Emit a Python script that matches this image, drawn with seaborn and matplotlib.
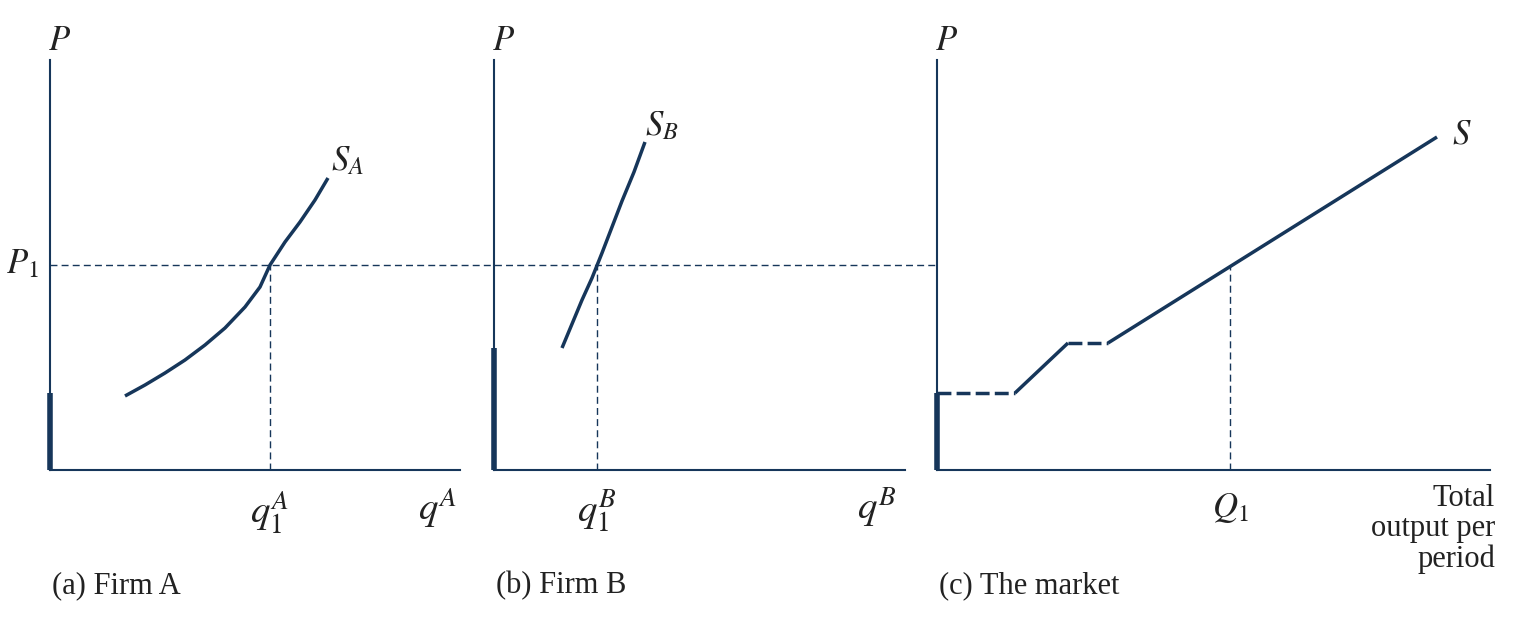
import matplotlib.pyplot as plt
import seaborn as sns

sns.set_theme(style="white")
plt.rcParams['font.family'] = ['Liberation Serif', 'DejaVu Serif']
plt.rcParams['mathtext.fontset'] = 'stix'

NAVY = '#16365a'
W, H = 1515, 626

# data in axis units (origin at each panel's corner)
p1 = 205
sa_x = [75, 95, 115, 135, 155, 175, 195, 210, 220, 235, 250, 265, 278]
sa_y = [74, 85, 97, 110, 125, 142, 163, 183, 205, 228, 248, 270, 292]
sb_x = [68, 78, 88, 98, 108, 118, 128, 140, 151]
sb_y = [122, 146, 170, 192, 217, 243, 269, 298, 328]
qa1, qb1, Q1 = 220, 103, 293
step1_x, step1_y = [0, 78], [77, 77]
rise1_x, rise1_y = [78, 131], [77, 127]
step2_x, step2_y = [131, 171], [127, 127]
mkt_x, mkt_y = [171, 500], [127, 333]
shut_a, shut_b, shut_c = 77, 122, 77

panels = [(50, 410), (494, 411), (937, 553)]
fig = plt.figure(figsize=(W / 100, H / 100), dpi=100)
axes = []
for left, width in panels:
    ax = fig.add_axes([left / W, (H - 470) / H, width / W, 410 / H])
    ax.set_xlim(0, width)
    ax.set_ylim(0, 410)
    ax.set_xticks([])
    ax.set_yticks([])
    for s in ['top', 'right']:
        ax.spines[s].set_visible(False)
    for s in ['left', 'bottom']:
        ax.spines[s].set_color(NAVY)
        ax.spines[s].set_linewidth(1.5)
    ax.set_facecolor('none')
    axes.append(ax)
a, b, c = axes

kw = dict(color=NAVY, lw=2.5, solid_capstyle='butt')
dk = dict(color=NAVY, lw=1, ls=(0, (5, 3)))

sns.lineplot(x=sa_x, y=sa_y, ax=a, sort=False, **kw)
sns.lineplot(x=sb_x, y=sb_y, ax=b, sort=False, **kw)
c.plot(step1_x, step1_y, color=NAVY, lw=2.5, ls=(0, (4, 1.5)))
c.plot(rise1_x, rise1_y, **kw)
c.plot(step2_x, step2_y, color=NAVY, lw=2.5, ls=(0, (4, 1.5)))
c.plot(mkt_x, mkt_y, **kw)

for ax, h in zip(axes, [shut_a, shut_b, shut_c]):
    ax.plot([0, 0], [0, h], color=NAVY, lw=4, solid_capstyle='butt', clip_on=False)

a.plot([0, 887], [p1, p1], clip_on=False, **dk)
a.plot([qa1, qa1], [0, p1], **dk)
b.plot([qb1, qb1], [0, p1], **dk)
c.plot([Q1, Q1], [0, p1], **dk)

fs = 25
tc = '#222'
for ax in axes:
    ax.text(10, 428, '$P$', fontsize=fs, ha='center', va='center', color=tc)
a.text(-28, p1, '$P_1$', fontsize=fs, ha='center', va='center', color=tc)
a.text(298, 308, '$S_A$', fontsize=fs, ha='center', va='center', color=tc)
b.text(168, 343, '$S_B$', fontsize=fs, ha='center', va='center', color=tc)
c.text(525, 335, '$S$', fontsize=fs, ha='center', va='center', color=tc)
a.text(qa1, -42, '$q_1^A$', fontsize=fs + 3, ha='center', va='center', color=tc)
a.text(388, -38, '$q^A$', fontsize=fs + 3, ha='center', va='center', color=tc)
b.text(qb1, -42, '$q_1^B$', fontsize=fs + 3, ha='center', va='center', color=tc)
b.text(383, -38, '$q^B$', fontsize=fs + 3, ha='center', va='center', color=tc)
c.text(Q1, -38, '$Q_1$', fontsize=fs, ha='center', va='center', color=tc)
c.text(558, -14, 'Total\noutput per\nperiod', fontsize=22, ha='right', va='top',
       linespacing=1.05, color=tc)
for ax, cap in zip(axes, ['(a) Firm A', '(b) Firm B', '(c) The market']):
    ax.text(2, -116, cap, fontsize=22, ha='left', va='center', color=tc)

fig.savefig('out.png', dpi=100)
